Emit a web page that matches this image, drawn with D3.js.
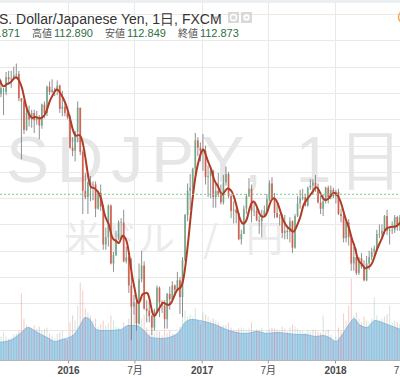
<!DOCTYPE html>
<html>
<head>
<meta charset="utf-8">
<script src="https://cdnjs.cloudflare.com/ajax/libs/d3/7.8.5/d3.min.js"></script>
<style>
  body { margin: 0; background: #fff; }
  svg { display: block; font-family: "Liberation Sans", Arial, sans-serif; }
</style>
</head>
<body>
<svg id="chart" width="400" height="377"></svg>
<script>
// weekly USD/JPY candles, first week starts Mon 2015-06-01
const wkOpen = [124.1,125.6,123.4,122.7,122.4,122.8,122.6,124.0,123.8,123.9,124.2,124.3,122.0,121.7,119.0,120.6,120.0,120.6,119.9,120.2,
  119.4,121.4,120.6,123.1,122.6,122.8,122.8,123.2,121.0,121.2,120.6,120.2,117.3,117.0,118.8,121.1,116.9,113.2,112.6,114.0,
  113.8,113.8,111.5,113.0,111.7,108.1,108.8,111.8,106.3,107.1,108.6,110.2,110.2,106.5,106.9,104.2,102.2,102.6,100.6,104.8,
  106.1,102.0,101.8,101.3,100.2,101.8,104.0,102.6,102.3,101.0,103.4,102.9,104.2,103.8,104.7,103.1,106.6,110.9,113.2,113.5,
  115.3,118.0,117.3,117.0,117.0,114.5,114.6,115.1,112.6,113.2,112.9,112.1,114.0,114.8,112.7,111.3,111.4,111.1,108.6,109.1,
  111.5,112.7,113.4,111.3,111.3,110.4,110.3,110.9,111.3,112.4,113.9,112.5,111.1,110.7,110.7,109.2,109.4,109.3,110.3,107.8,
  110.8,112.0,112.5,112.6,111.8,113.5,113.7,114.0,113.5,112.1,111.5,112.2,113.5,112.6,113.3,112.7,113.1,111.0,110.8,108.7,
  110.2,108.8,106.3,106.9,105.4,106.8,106.0,104.7,106.3,106.9,107.4,107.7,109.1,109.1,109.4,110.8,109.4,109.5,109.5,110.7,
  110.0];
const wkHigh = [125.9,125.7,123.8,124.4,123.7,123.0,124.5,124.6,124.6,125.0,125.3,124.6,122.0,121.8,121.3,121.3,120.9,120.9,120.8,120.4,
  121.5,121.7,123.2,123.6,123.8,123.0,123.7,123.3,122.7,121.5,120.9,120.4,118.3,118.9,121.7,121.1,117.1,114.9,114.1,114.6,
  114.1,114.1,113.2,113.8,111.9,109.7,111.9,111.9,107.4,109.4,110.4,110.6,111.4,107.9,107.0,106.8,103.3,103.0,106.3,107.5,
  106.5,102.8,102.7,101.4,102.0,104.2,104.1,102.8,102.8,103.5,104.1,104.6,104.3,105.5,105.0,106.9,111.0,113.9,114.8,115.4,
  118.7,118.3,117.8,118.6,117.5,115.6,115.4,115.2,113.9,114.9,113.8,114.7,115.5,115.0,112.9,112.2,111.6,111.1,109.5,111.8,
  112.9,114.4,113.8,112.1,111.7,110.8,111.4,111.8,112.9,114.2,114.5,113.0,112.2,111.0,111.0,110.9,109.8,110.7,110.4,111.0,
  112.7,113.3,113.4,112.9,113.6,114.3,114.3,114.7,113.9,112.7,112.9,113.6,113.7,113.7,113.5,113.3,113.4,111.5,111.0,110.5,
  110.5,109.0,107.9,107.7,106.9,107.3,106.6,107.0,107.5,107.8,108.0,109.5,110.0,110.0,110.9,111.4,109.7,110.3,110.9,110.8,
  110.9];
const wkLow = [124.0,122.5,122.5,122.6,122.1,120.4,122.3,123.3,123.0,123.8,123.8,121.7,116.2,118.6,118.9,119.3,119.2,118.7,119.5,118.1,
  119.1,120.1,120.3,122.3,122.5,122.2,122.3,120.6,120.3,120.3,120.0,117.2,116.5,116.0,117.8,116.6,111.0,112.4,111.0,112.2,
  112.3,110.7,111.4,111.3,107.6,107.6,107.9,106.2,105.5,107.0,108.5,108.7,106.4,106.3,103.5,99.0,101.4,99.9,100.5,104.5,
  101.9,100.7,100.7,99.5,99.9,101.7,101.2,101.6,100.1,100.1,101.9,102.8,103.2,103.7,101.5,101.2,106.5,110.3,111.4,112.9,
  114.8,116.5,116.0,115.1,113.8,112.6,112.5,111.6,111.6,112.6,111.9,111.9,113.7,112.5,110.6,110.1,110.1,108.5,108.1,109.1,
  111.0,112.6,110.2,110.8,110.3,109.1,108.8,110.8,111.2,112.2,112.4,110.6,110.6,109.9,108.7,108.6,108.6,108.3,107.3,107.7,
  110.7,111.5,112.3,111.7,111.7,113.3,112.8,113.1,112.0,111.0,110.8,112.0,112.0,112.4,112.5,112.0,110.9,110.2,108.3,108.3,
  108.0,105.6,105.6,105.2,105.2,105.8,104.6,104.6,105.7,106.6,106.9,107.5,108.7,108.6,109.1,109.0,108.1,109.1,109.2,109.4,
  109.4];
const wkClose = [125.6,123.4,122.7,123.8,123.0,122.8,124.0,123.8,123.9,124.2,124.3,122.0,121.7,119.0,120.6,120.0,120.6,119.9,120.2,119.4,
  121.4,120.6,123.1,122.6,122.8,122.8,123.2,121.0,121.2,120.6,120.2,117.3,117.0,118.8,121.1,116.9,113.2,112.6,114.0,113.8,
  113.8,111.5,113.0,111.7,108.1,108.8,111.8,106.3,107.1,108.6,110.2,110.2,106.5,106.9,104.2,102.2,102.6,100.6,104.8,106.1,
  102.0,101.8,101.3,100.2,101.8,104.0,102.6,102.3,101.0,103.4,102.9,104.2,103.8,104.7,103.1,106.6,110.9,113.2,113.5,115.3,
  118.0,117.3,117.0,117.0,114.5,114.6,115.1,112.6,113.2,112.9,112.1,114.0,114.8,112.7,111.3,111.4,111.1,108.6,109.1,111.5,
  112.7,113.4,111.3,111.3,110.4,110.3,110.9,111.3,112.4,113.9,112.5,111.1,110.7,110.7,109.2,109.4,109.3,110.3,107.8,110.8,
  112.0,112.5,112.6,111.8,113.5,113.7,114.0,113.5,112.1,111.5,112.2,113.5,112.6,113.3,112.7,113.1,111.0,110.8,108.7,110.2,
  108.8,106.3,106.9,105.4,106.8,106.0,104.7,106.3,106.9,107.4,107.7,109.1,109.1,109.4,110.8,109.4,109.5,109.5,110.7,110.0,
  110.7];
// peak daily volume seen in each week (pane units)
const wkVolume = [25,28,22,24,24,28,24,22,23,26,27,30,67,42,36,34,33,35,32,34,
  30,31,33,27,25,22,27,28,30,22,20,38,45,40,55,78,70,52,48,45,
  40,42,34,36,40,35,37,45,40,34,33,30,38,34,42,88,45,40,44,42,
  46,33,28,27,28,30,29,25,30,28,30,27,26,28,34,72,50,44,46,43,
  52,40,36,48,46,44,40,42,40,38,34,35,36,38,33,31,30,32,33,32,
  30,32,38,30,31,30,33,28,30,31,33,32,31,30,34,32,29,33,36,34,
  32,30,29,28,30,29,31,30,29,28,45,30,31,26,20,24,33,30,47,40,
  55,82,45,48,42,38,44,40,38,42,63,45,40,42,44,46,55,38,40,38,
  36];
// volume moving average
const volMaDates = ["2015-06-20","2015-07-26","2015-08-23","2015-09-13","2015-10-05","2015-10-19","2015-11-10","2015-11-26",
  "2015-12-16","2016-01-04","2016-01-20","2016-02-03","2016-02-17","2016-03-01","2016-03-15","2016-03-29","2016-04-25",
  "2016-05-25","2016-06-13","2016-07-05","2016-07-27","2016-08-15","2016-09-14","2016-10-12","2016-11-03","2016-11-16",
  "2016-12-05","2016-12-27","2017-01-18","2017-02-06","2017-03-09","2017-04-05","2017-05-02","2017-06-01","2017-06-29",
  "2017-07-26","2017-08-23","2017-09-22","2017-10-11","2017-11-10","2017-11-29","2017-12-21","2018-01-04","2018-01-17",
  "2018-02-08","2018-02-22","2018-03-08","2018-03-30","2018-04-20","2018-05-10","2018-05-31","2018-06-30"];
const volMaValues = [18,20,27,33,29,26,22,19,21,23,27,35,43,41,32,30,30,31,35,35,30,23,22,24,30,38,41,40,38,36,31,28,27,29,27,
  28,27,26,26,24,25,22,19,24,36,42,36,33,40,38,35,31];

const xTicks = ["2016-01-01","2016-07-01","2017-01-01","2017-07-01","2018-01-01","2018-07-01"];
const priceGrid = d3.range(97.5, 132.5, 2.5);
const lastPrice = 112.873;
const ohlcLabels = ["始値","高値","安値","終値"];
const ohlcValues = ["112.871","112.890","112.849","112.873"];
const titleText = "U.S. Dollar/Japanese Yen, 1日, FXCM";
const watermark = "USDJPY, 1日";
const watermarkSub = "米ドル / 円";

const W = 400, H = 377, axisY = 360.5;
const parse = d3.timeParse("%Y-%m-%d");
const svg = d3.select("#chart");

const weeks = d3.timeMonday.range(new Date(2015, 5, 1), new Date(2018, 6, 2));
const candles = weeks.map((d, i) => ({
  date: d3.timeHour.offset(d, 60),
  o: wkOpen[i], h: wkHigh[i], l: wkLow[i], c: wkClose[i], v: wkVolume[i]
}));

const x = d3.scaleTime()
  .domain([new Date(2016, 0, 1), new Date(2018, 0, 1)])
  .range([68, 335]);
const y = d3.scaleLinear().domain([125, 97.5]).range([66.7, 356]);
const yv = d3.scaleLinear().domain([0, 100]).range([axisY, axisY - 100]);

svg.append("rect").attr("width", W).attr("height", H).attr("fill", "#fff");

// grid
svg.append("g").selectAll("line").data(priceGrid).enter().append("line")
  .attr("x1", 0).attr("x2", W)
  .attr("y1", d => Math.round(y(d)) + 0.5).attr("y2", d => Math.round(y(d)) + 0.5)
  .attr("stroke", "#e9e9ea");
svg.append("g").selectAll("line").data(xTicks.map(parse)).enter().append("line")
  .attr("x1", d => Math.round(x(d)) + 0.5).attr("x2", d => Math.round(x(d)) + 0.5)
  .attr("y1", 0).attr("y2", axisY)
  .attr("stroke", "#e9e9ea");

// watermark
svg.append("text").attr("x", -48).attr("y", 182)
  .attr("font-size", 64).attr("letter-spacing", 8).attr("fill", "#e6e6e6")
  .text(watermark);
svg.append("text").attr("x", 64).attr("y", 252)
  .attr("font-family", "'Noto Sans CJK JP', sans-serif")
  .attr("font-size", 37).attr("word-spacing", 20).attr("fill", "#ebebeb")
  .text(watermarkSub);

// volume pane
const maPts = volMaDates.map((d, i) => ({ date: parse(d), v: volMaValues[i] }));
svg.append("path").datum(maPts)
  .attr("d", d3.area().x(d => x(d.date)).y0(axisY).y1(d => yv(d.v)).curve(d3.curveMonotoneX))
  .attr("fill", "#a9d1f0");
svg.append("path").datum(maPts)
  .attr("d", d3.line().x(d => x(d.date)).y(d => yv(d.v)).curve(d3.curveMonotoneX))
  .attr("fill", "none").attr("stroke", "#8cc1ea").attr("stroke-width", 1);
svg.append("g").selectAll("line").data(candles).enter().append("line")
  .attr("x1", d => x(d.date)).attr("x2", d => x(d.date))
  .attr("y1", axisY).attr("y2", d => yv(d.v))
  .attr("stroke", d => d.c >= d.o ? "#6ba583" : "#d75442")
  .attr("stroke-opacity", 0.3).attr("stroke-width", 1);

// candles
const cg = svg.append("g");
cg.selectAll("line").data(candles).enter().append("line")
  .attr("x1", d => x(d.date)).attr("x2", d => x(d.date))
  .attr("y1", d => y(d.h)).attr("y2", d => y(d.l))
  .attr("stroke", "#737375").attr("stroke-width", 0.8);
cg.selectAll("rect").data(candles).enter().append("rect")
  .attr("x", d => x(d.date) - 0.9).attr("width", 1.8)
  .attr("y", d => y(Math.max(d.o, d.c)))
  .attr("height", d => Math.max(0.6, Math.abs(y(d.o) - y(d.c))))
  .attr("fill", d => d.c >= d.o ? "#6ba583" : "#d75442")
  .attr("fill-opacity", 0.8);

// moving average of closes, 4 weeks
const ma = candles.map((d, i) => {
  if (i < 3) return null;
  return { date: d3.timeDay.offset(d.date, 2), v: d3.mean(candles.slice(i - 3, i + 1), c => c.c) };
}).filter(d => d);
svg.append("path").datum(ma)
  .attr("d", d3.line().x(d => x(d.date)).y(d => y(d.v)).curve(d3.curveBasis))
  .attr("fill", "none").attr("stroke", "#b03c26").attr("stroke-width", 2);

// last price
svg.append("line")
  .attr("x1", 0).attr("x2", W)
  .attr("y1", y(lastPrice)).attr("y2", y(lastPrice))
  .attr("stroke", "#7cc48d").attr("stroke-dasharray", "2,2");

// time axis
svg.append("rect").attr("y", axisY).attr("width", W).attr("height", H - axisY).attr("fill", "#fff");
const axis = svg.append("g").attr("transform", `translate(0,${axisY})`)
  .call(d3.axisBottom(x).tickValues(xTicks.map(parse)).tickSize(3).tickPadding(3)
    .tickFormat(d => d.getMonth() === 0 ? d3.timeFormat("%Y")(d) : (d.getMonth() + 1) + "月"));
axis.select(".domain").attr("stroke", "#b5b5b5").attr("d", `M0,0H${W}`);
axis.selectAll(".tick line").attr("stroke", "#9a9a9a");
axis.selectAll("text")
  .attr("fill", "#4a4a4a").attr("font-size", 10)
  .attr("font-family", "'Liberation Sans', 'Noto Sans CJK JP', sans-serif")
  .attr("font-weight", d => d.getMonth() === 0 ? "bold" : "normal");

// header
svg.append("rect").attr("width", W).attr("height", 3).attr("fill", "#eceff2");
svg.append("text").attr("x", -15).attr("y", 24)
  .attr("font-size", 14).attr("fill", "#333")
  .text(titleText);
svg.append("path").attr("d", "M213,16.5h6l-3,3z").attr("fill", "#b0b0b0");
svg.append("rect").attr("x", 228).attr("y", 12).attr("width", 11).attr("height", 11).attr("fill", "#d9d9d9");
svg.append("circle").attr("cx", 233.5).attr("cy", 17.5).attr("r", 3).attr("fill", "none").attr("stroke", "#fff").attr("stroke-width", 1.4);
svg.append("rect").attr("x", 241).attr("y", 12).attr("width", 11).attr("height", 11).attr("fill", "#d9d9d9");
svg.append("circle").attr("cx", 246.5).attr("cy", 17.5).attr("r", 3.2).attr("fill", "#fff");
svg.append("circle").attr("cx", 246.5).attr("cy", 17.5).attr("r", 1.3).attr("fill", "#d9d9d9");
svg.append("circle").attr("cx", 405).attr("cy", 17).attr("r", 6.5).attr("fill", "none").attr("stroke", "#f5a04a").attr("stroke-width", 1.4);

// OHLC values, laid out one after another
const row = svg.append("g");
let cursor = 0;
ohlcLabels.forEach((lab, i) => {
  const t1 = row.append("text").attr("x", cursor).attr("y", 37).attr("font-size", 10)
    .attr("font-family", "'Noto Sans CJK JP', sans-serif").attr("fill", "#555").text(lab);
  cursor += t1.node().getComputedTextLength() + 2;
  const t2 = row.append("text").attr("x", cursor).attr("y", 37).attr("font-size", 11)
    .attr("fill", "#2f6f3f").text(ohlcValues[i]);
  cursor += t2.node().getComputedTextLength() + 12;
});
// shift the row so that only the tail of the first value shows at the left edge
const firstVal = row.selectAll("text").nodes()[1];
const shift = 20 - (+firstVal.getAttribute("x") + firstVal.getComputedTextLength());
row.attr("transform", `translate(${shift},0)`);
</script>
</body>
</html>
